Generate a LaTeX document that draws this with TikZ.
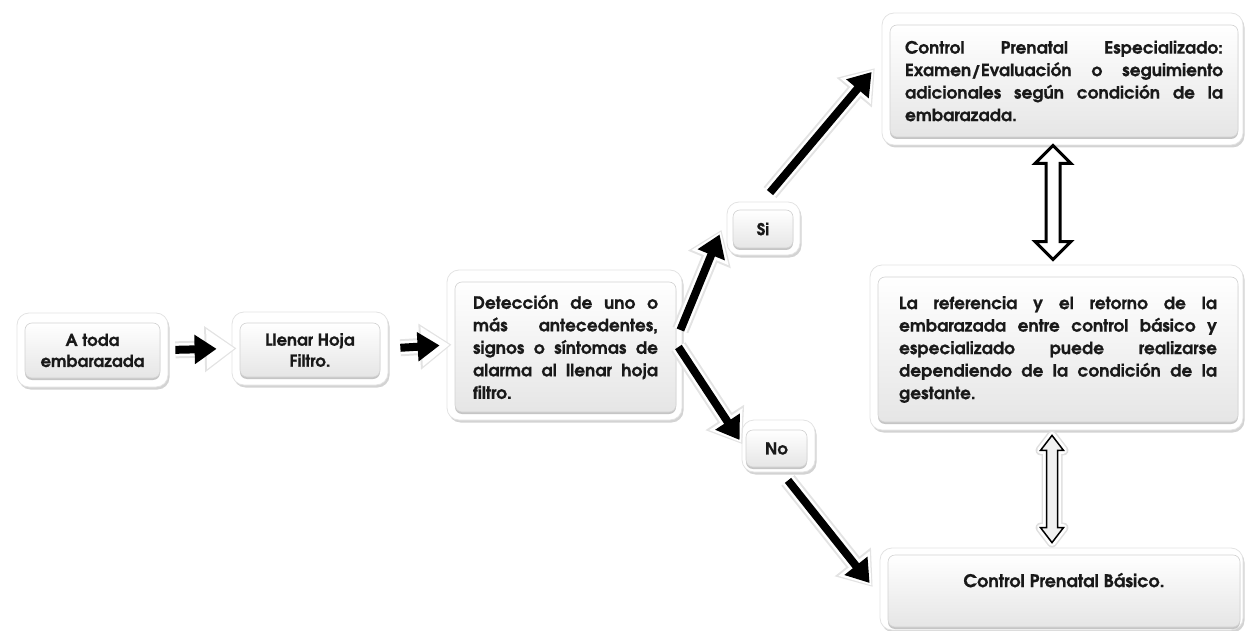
\documentclass[tikz,border=0pt]{standalone}
\usepackage{fontspec}
\setmainfont{TeX Gyre Adventor}[BoldFeatures={FakeBold=0.7}]
\usetikzlibrary{arrows.meta,shadows,calc}
\begin{document}
\begin{tikzpicture}[x=1pt,y=-1pt,
  frame/.style={fill=white, rounded corners=12pt, draw=gray!22, line width=0.8pt,
    drop shadow={shadow xshift=1.5pt, shadow yshift=-2.5pt, opacity=0.35, fill=gray}, inner sep=0pt},
  btn/.style={rounded corners=7pt, top color=white, bottom color=gray!20, draw=gray!35, line width=0.6pt,
    drop shadow={shadow xshift=0pt, shadow yshift=-2pt, opacity=0.5, fill=gray!90},
    inner sep=0pt, text=black!90, font=\bfseries\fontsize{16.5}{21}\selectfont, align=center},
  big/.style={btn, font=\bfseries\fontsize{17}{22.5}\selectfont, align=justify},
  arr/.style={line width=8pt, -{Triangle[length=22pt,width=28pt]},
    preaction={draw=gray!22, line width=17pt, -{Triangle[length=32pt,width=44pt]}, shorten >=-5pt},
    preaction={draw=white, line width=13pt, -{Triangle[length=28pt,width=38pt]}, shorten >=-3pt}},
  dblA/.style={draw=black, line width=3pt, fill=white, line join=miter},
  dblB/.style={draw=black, line width=1.5pt, fill=gray!12, line join=miter,
    preaction={draw=gray!25, line width=10pt, line join=round},
    preaction={draw=white, line width=7pt, line join=round}},
]
\useasboundingbox (0,0) rectangle (1245,631);

% outer frames
\node[frame, minimum width=151pt, minimum height=74pt] (b1) at (92.5,350) {};
\node[frame, minimum width=156pt, minimum height=73pt] (b2) at (310,348.5) {};
\node[frame, minimum width=235pt, minimum height=150pt] (det) at (564.5,345) {};
\node[frame, minimum width=73pt, minimum height=53pt] (si) at (763.5,228.5) {};
\node[frame, minimum width=73pt, minimum height=52pt] (no) at (778.5,446) {};
\node[frame, minimum width=361pt, minimum height=132pt] (top) at (1062.5,79) {};
\node[frame, minimum width=373pt, minimum height=165pt] (mid) at (1056.5,347.5) {};
\node[frame, minimum width=363pt, minimum height=82pt] (bot) at (1061.5,589) {};

% inner boxes with text
\node[btn, minimum width=135pt, minimum height=55pt] (b1i) at (92.5,350.5) {A toda\\embarazada};
\node[btn, minimum width=140pt, minimum height=54pt] (b2i) at (310,350) {Llenar Hoja\\Filtro.};
\node[big, minimum width=221pt, minimum height=130pt, text width=185pt] (deti) at (565.5,347)
  {Detección de uno o\linebreak más antecedentes,\linebreak signos o síntomas de\linebreak alarma al llenar hoja\linebreak filtro.};
\node[btn, minimum width=60pt, minimum height=38pt] (sii) at (763,229) {Si};
\node[btn, minimum width=61pt, minimum height=37pt] (noi) at (776.5,448.5) {No};
\node[big, minimum width=348pt, minimum height=112pt, text width=318pt] (topi) at (1064,81)
  {Control Prenatal Especializado:\linebreak Examen/Evaluación o seguimiento\linebreak adicionales según condición de la\linebreak embarazada.};
\node[big, minimum width=360pt, minimum height=145pt, text width=318pt] (midi) at (1058,349.5)
  {La referencia y el retorno de la\linebreak embarazada entre control básico y\linebreak especializado puede realizarse\linebreak dependiendo de la condición de la\linebreak gestante.};
\node[btn, minimum width=352pt, minimum height=72pt, text depth=22pt, font=\bfseries\fontsize{17.5}{22}\selectfont] (boti) at (1064,591) {Control Prenatal Básico.};

% arrows
\draw[arr, shorten <=7pt, shorten >=15pt] (b1.east) -- (b2.west);
\draw[arr, shorten <=12pt, shorten >=7pt] (b2.east) -- (det.west);
\draw[arr] ($(det.east)+(-2,-15)$) -- ($(si.west)+(-7,6)$);
\draw[arr] ($(si.north)+(6.5,-9)$) -- ($(top.west)+(-10,-7)$);
\draw[arr] ($(det.east)+(-4,2)$) -- ($(no.west)+(-2,-6)$);
\draw[arr] ($(no.south)+(9.5,8)$) -- ($(bot.west)+(-10,-6)$);

% double arrows
\coordinate (da1) at ($(top.south)+(-9.5,0)$);
\coordinate (da2) at ($(mid.north)+(-3.5,-5)$);
\coordinate (da3) at ($(mid.south)+(-4.5,5)$);
\coordinate (da4) at ($(bot.north)+(-9.5,-5)$);
\draw[dblA] (da1) -- ($(da1)+(18,18)$) -- ($(da1)+(7,18)$) -- ($(da2)+(7,-18)$) -- ($(da2)+(18,-18)$)
  -- (da2) -- ($(da2)+(-18,-18)$) -- ($(da2)+(-7,-18)$) -- ($(da1)+(-7,18)$) -- ($(da1)+(-18,18)$) -- cycle;
\draw[dblB] (da3) -- ($(da3)+(11.5,15)$) -- ($(da3)+(5.5,15)$) -- ($(da4)+(5.5,-15)$) -- ($(da4)+(11.5,-15)$)
  -- (da4) -- ($(da4)+(-11.5,-15)$) -- ($(da4)+(-5.5,-15)$) -- ($(da3)+(-5.5,15)$) -- ($(da3)+(-11.5,15)$) -- cycle;
\end{tikzpicture}
\end{document}
